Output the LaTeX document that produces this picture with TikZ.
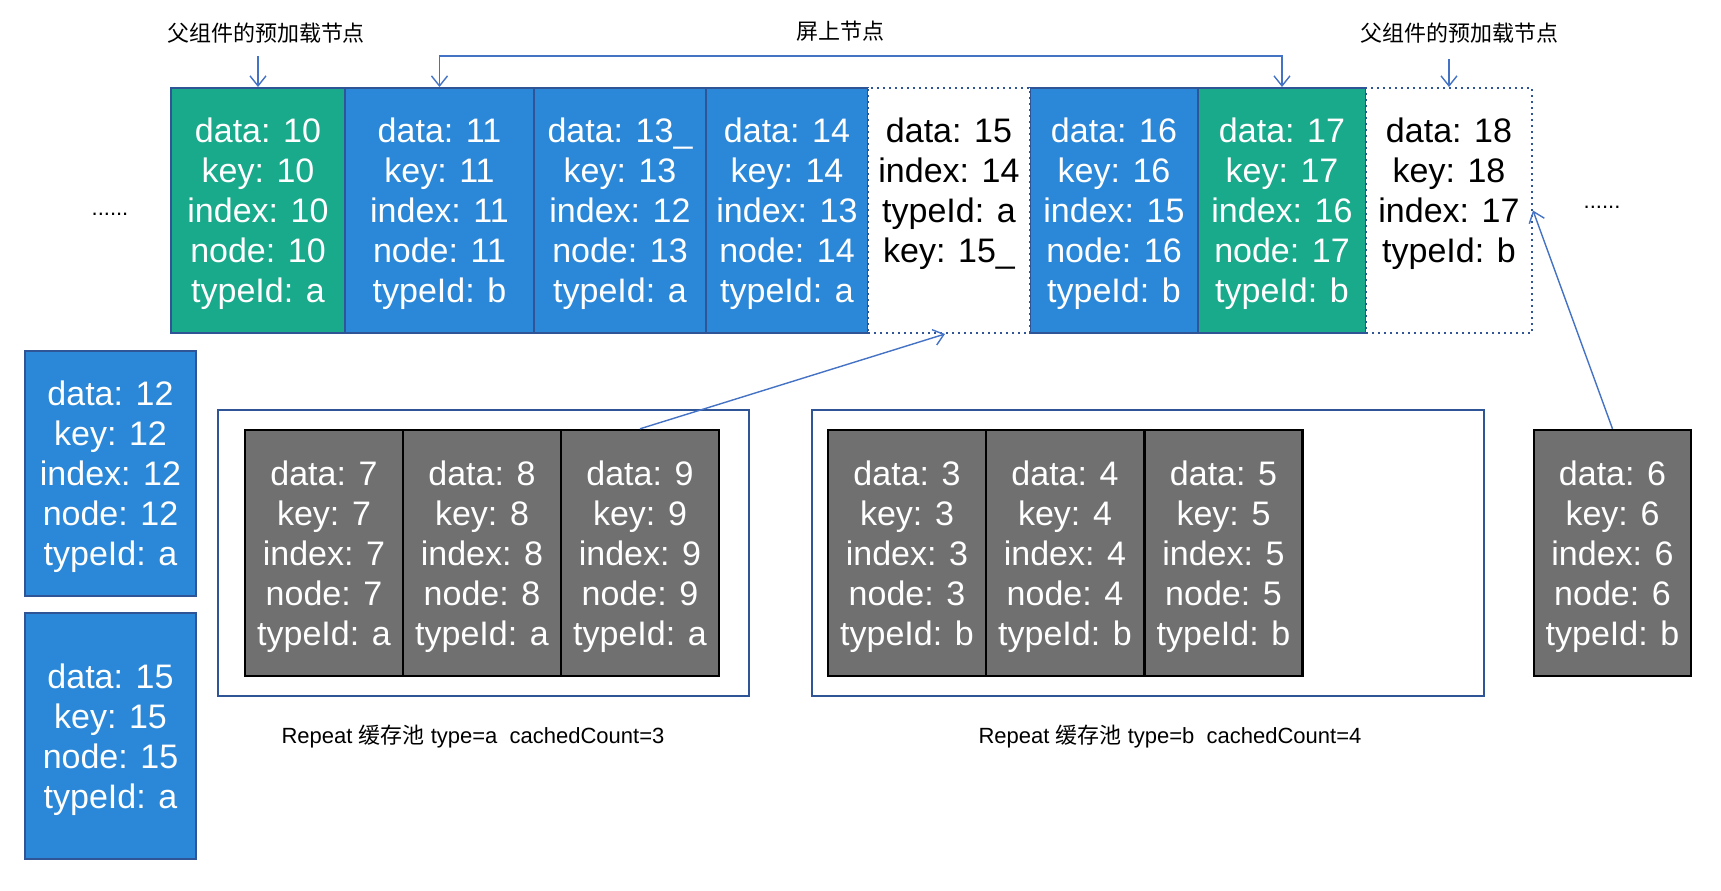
\documentclass[tikz,border=0pt]{standalone}
\usepackage{fontspec}
\setmainfont{Liberation Sans}
\newfontfamily\cjk{Noto Sans CJK SC}
\usetikzlibrary{arrows.meta}
\definecolor{cellgreen}{HTML}{19A98B}
\definecolor{cellblue}{HTML}{2B88D8}
\definecolor{cellgray}{HTML}{707070}
\definecolor{edgeblue}{HTML}{2F5597}
\definecolor{arrowblue}{HTML}{4472C4}
\tikzset{
  cell/.style={rectangle, minimum height=122.5pt, inner sep=0pt, align=center,
    font=\fontsize{17}{20}\selectfont, line width=1pt, text depth=0pt},
  greencell/.style={cell, fill=cellgreen, draw=edgeblue, text=white},
  bluecell/.style={cell, fill=cellblue, draw=edgeblue, text=white},
  whitecell/.style={cell, fill=white, draw=edgeblue, dotted, text=black},
  graycell/.style={cell, fill=cellgray, draw=black, line width=1.2pt, text=white, minimum width=79pt, minimum height=123pt},
  pool/.style={rectangle, draw=edgeblue, line width=1pt, minimum height=143pt},
  note/.style={font=\fontsize{11}{13}\selectfont, inner sep=1pt},
  arr/.style={draw=arrowblue, line width=0.7pt, -{Straight Barb[length=5pt,width=8pt]}}
}
\begin{document}
\begin{tikzpicture}[x=0.5pt, y=-0.5pt]
\useasboundingbox (0,0) rectangle (1721,890);
% labels on top
\node[note] (preL) at (266,33) {\cjk 父组件的预加载节点};
\node[note] (onscreen) at (840,31) {\cjk 屏上节点};
\node[note] (preR) at (1459,33) {\cjk 父组件的预加载节点};
\node[note] (dotsL) at (110,214) {......};
\node[note] (dotsR) at (1602,207) {......};
% top row
\node[greencell, minimum width=87pt] (g10) at (258,210.5) {data: 10\\key: 10\\index: 10\\node: 10\\typeId: a};
\node[bluecell, minimum width=94.5pt] (b11) at (439.5,210.5) {data: 11\\key: 11\\index: 11\\node: 11\\typeId: b};
\node[bluecell, minimum width=86pt] (b13) at (620,210.5) {data: 13\_\\key: 13\\index: 12\\node: 13\\typeId: a};
\node[bluecell, minimum width=81pt] (b14) at (787,210.5) {data: 14\\key: 14\\index: 13\\node: 14\\typeId: a};
\node[bluecell, minimum width=84pt] (b16) at (1114,210.5) {data: 16\\key: 16\\index: 15\\node: 16\\typeId: b};
\node[greencell, minimum width=84pt] (g17) at (1282,210.5) {data: 17\\key: 17\\index: 16\\node: 17\\typeId: b};
\node[whitecell, minimum width=81pt] (w15) at (949,210.5) {data: 15\\index: 14\\typeId: a\\key: 15\_\\\mbox{}};
\node[whitecell, minimum width=83pt] (w18) at (1449,210.5) {data: 18\\key: 18\\index: 17\\typeId: b\\\mbox{}};
% arrows from the labels
\coordinate (bracket) at (860,56);
\draw[arr] ([yshift=15.5pt]g10.north) -- (g10.north);
\draw[arr] (bracket) -| (b11.north);
\draw[arr] (bracket) -| (g17.north);
\draw[arr] ([yshift=14pt]w18.north) -- (w18.north);
% nodes off the screen
\node[bluecell, minimum width=85.5pt] (b12) at (110.5,473.5) {data: 12\\key: 12\\index: 12\\node: 12\\typeId: a};
\node[bluecell, minimum width=85.5pt, minimum height=123pt] (b15) at (110.5,736) {data: 15\\key: 15\\node: 15\\typeId: a};
% cache pool a
\node[pool, minimum width=265.5pt] (poolA) at (483.5,553) {};
\node[graycell] (c7) at (324,553) {data: 7\\key: 7\\index: 7\\node: 7\\typeId: a};
\node[graycell] (c8) at (482,553) {data: 8\\key: 8\\index: 8\\node: 8\\typeId: a};
\node[graycell] (c9) at (640,553) {data: 9\\key: 9\\index: 9\\node: 9\\typeId: a};
\node[note] (capA) at (473,737) {Repeat {\cjk 缓存池} type=a\ \ cachedCount=3};
% cache pool b
\node[pool, minimum width=336pt] (poolB) at (1148,553) {};
\node[graycell] (c3) at (907,553) {data: 3\\key: 3\\index: 3\\node: 3\\typeId: b};
\node[graycell] (c4) at (1065,553) {data: 4\\key: 4\\index: 4\\node: 4\\typeId: b};
\node[graycell] (c5) at (1223.5,553) {data: 5\\key: 5\\index: 5\\node: 5\\typeId: b};
\node[note] (capB) at (1170,737) {Repeat {\cjk 缓存池} type=b\ \ cachedCount=4};
\node[graycell, minimum width=78.5pt] (c6) at (1612.5,553) {data: 6\\key: 6\\index: 6\\node: 6\\typeId: b};
% reuse from the pools
\draw[arr] (c9.north) -- ([xshift=-2pt]w15.south);
\draw[arr] (c6.north) -- (w18.east);
\end{tikzpicture}
\end{document}
